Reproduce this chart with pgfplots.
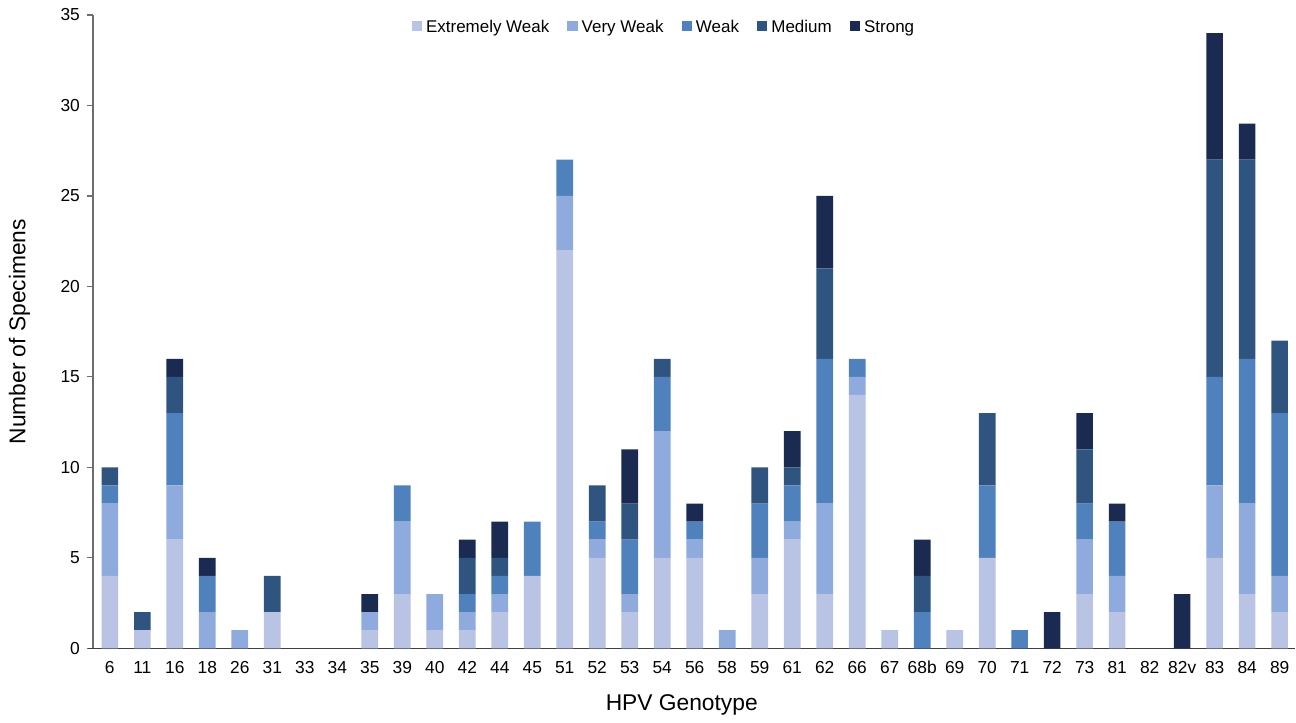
\documentclass[border=0pt]{standalone}
\usepackage{fontspec}
\setmainfont{Liberation Sans}
\usepackage{pgfplots}
\usepackage{pgfplotstable}
\pgfplotsset{compat=1.18}
\definecolor{cEW}{RGB}{185,195,227}
\definecolor{cVW}{RGB}{143,170,220}
\definecolor{cW}{RGB}{79,129,189}
\definecolor{cM}{RGB}{47,84,128}
\definecolor{cS}{RGB}{26,42,80}
\definecolor{axgray}{RGB}{110,110,110}
\pgfplotstableread{
x EW VW W M S
0 4 4 1 1 0
1 1 0 0 1 0
2 6 3 4 2 1
3 0 2 2 0 1
4 0 1 0 0 0
5 2 0 0 2 0
6 0 0 0 0 0
7 0 0 0 0 0
8 1 1 0 0 1
9 3 4 2 0 0
10 1 2 0 0 0
11 1 1 1 2 1
12 2 1 1 1 2
13 4 0 3 0 0
14 22 3 2 0 0
15 5 1 1 2 0
16 2 1 3 2 3
17 5 7 3 1 0
18 5 1 1 0 1
19 0 1 0 0 0
20 3 2 3 2 0
21 6 1 2 1 2
22 3 5 8 5 4
23 14 1 1 0 0
24 1 0 0 0 0
25 0 0 2 2 2
26 1 0 0 0 0
27 5 0 4 4 0
28 0 0 1 0 0
29 0 0 0 0 2
30 3 3 2 3 2
31 2 2 3 0 1
32 0 0 0 0 0
33 0 0 0 0 3
34 5 4 6 12 7
35 3 5 8 11 2
36 2 2 9 4 0
}\data
\begin{document}
\begin{tikzpicture}
\begin{axis}[
  scale only axis,
  width=601.5pt, height=317pt,
  ybar stacked,
  bar width=8.3pt,
  xmin=-0.52, xmax=36.46,
  ymin=0, ymax=35,
  ytick={0,5,...,35},
  xtick=data,
  xticklabels={6,11,16,18,26,31,33,34,35,39,40,42,44,45,51,52,53,54,56,58,59,61,62,66,67,68b,69,70,71,72,73,81,82,82v,83,84,89},
  axis x line*=bottom,
  axis y line*=left,
  axis line style={axgray, line width=0.7pt},
  x axis line style={-, black!75, shorten <=-2.5pt},
  y axis line style={-},
  tick align=outside,
  x tick style={draw=none},
  y tick style={axgray, line width=0.6pt},
  major tick length=3pt,
  tick label style={font=\fontsize{8.7}{10}\selectfont},
  /pgf/number format/assume math mode=true,
  xticklabel style={yshift=0pt},
  xlabel={HPV Genotype},
  ylabel={Number of Specimens},
  label style={font=\fontsize{11.4}{13}\selectfont},
  xlabel style={at={(axis description cs:0.49,-0.09)}, anchor=center},
  ylabel style={at={(axis description cs:-0.061,0.5)}, anchor=center, rotate=0},
  legend columns=5,
  legend style={draw=none, fill=none, at={(0.476,0.983)}, anchor=center,
    font=\fontsize{8.5}{10}\selectfont, column sep=0pt,
    /tikz/every even column/.append style={column sep=7pt},
    nodes={text depth=0.25ex, text height=1.6ex}},
  legend image code/.code={\fill[#1] (0pt,-2.6pt) rectangle (5.2pt,2.6pt);},
]
\addplot[fill=cEW, draw=none] table[x=x,y=EW]{\data};
\addplot[fill=cVW, draw=none] table[x=x,y=VW]{\data};
\addplot[fill=cW, draw=none] table[x=x,y=W]{\data};
\addplot[fill=cM, draw=none] table[x=x,y=M]{\data};
\addplot[fill=cS, draw=none] table[x=x,y=S]{\data};
\legend{Extremely Weak, Very Weak, Weak, Medium, Strong}
\end{axis}
\path (current axis.south west) ++(-46.5pt,-36pt) coordinate (bbA);
\path (current axis.north east) ++(0pt,7.5pt) coordinate (bbB);
\path (bbA) rectangle (bbB);
\end{tikzpicture}
\end{document}
